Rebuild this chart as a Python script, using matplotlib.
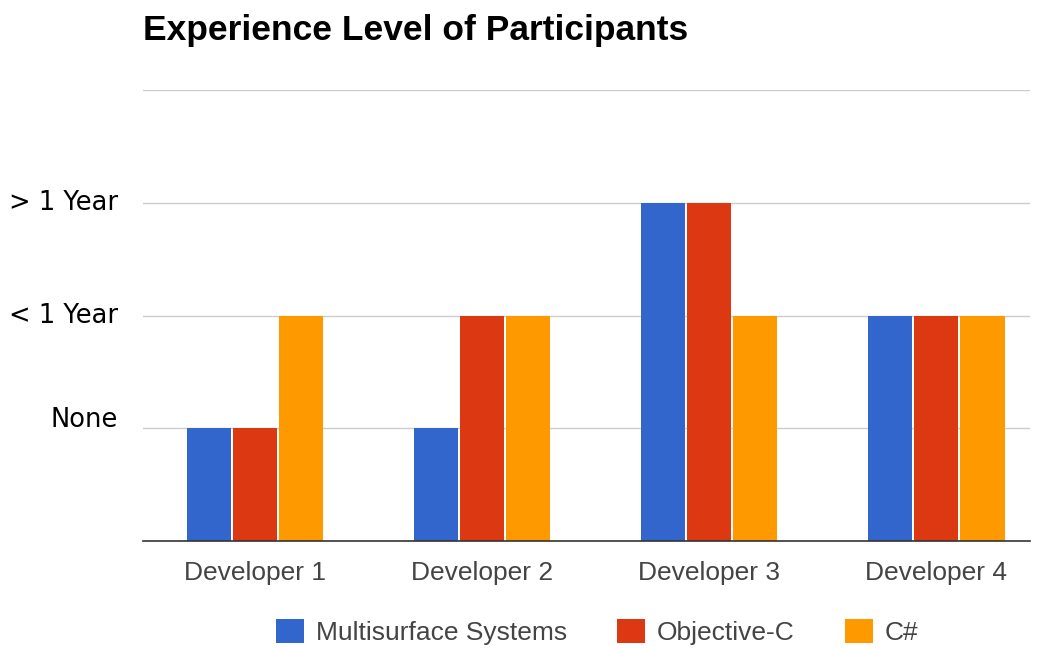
import matplotlib.pyplot as plt
import matplotlib.transforms as mtransforms
import numpy as np

developers = ['Developer 1', 'Developer 2', 'Developer 3', 'Developer 4']
series_names = ['Multisurface Systems', 'Objective-C', 'C#']
multisurface = [1, 1, 3, 2]
objective_c = [1, 2, 3, 2]
csharp = [2, 2, 2, 2]
level_ticks = [1, 2, 3]
level_labels = ['None', '< 1 Year', '> 1 Year']

colors = ['#3366cc', '#dc3912', '#ff9900']

fig = plt.figure(figsize=(10.44, 6.48), dpi=100)
ax = fig.add_axes([0.137, 0.165, 0.850, 0.696])

x = np.arange(len(developers))
w = 0.194
step = 0.203
for i, vals in enumerate([multisurface, objective_c, csharp]):
    ax.bar(x + (i - 1) * step, vals, width=w, color=colors[i],
           label=series_names[i], zorder=3)

ax.set_xlim(-0.493, 3.414)
ax.set_ylim(0, 4)
ax.set_yticks([0] + level_ticks + [4])
ax.set_yticklabels([''] + level_labels + [''], fontsize=18.5,
                   family='DejaVu Sans', color='black', va='center')
ax.tick_params(axis='y', length=0, pad=18)
# google charts draws "None" a bit above its gridline
none_lab = ax.get_yticklabels()[1]
none_lab.set_transform(none_lab.get_transform() +
                       mtransforms.ScaledTranslation(0, 8 / 100, fig.dpi_scale_trans))
ax.grid(axis='y', color='#cccccc', linewidth=1, zorder=0)
ax.set_xticks(x)
ax.set_xticklabels(developers, fontsize=19, family='Liberation Sans', color='#444444')
ax.tick_params(axis='x', length=0, pad=14)

for s in ['top', 'right', 'left']:
    ax.spines[s].set_visible(False)
ax.spines['bottom'].set_color('#333333')
ax.spines['bottom'].set_linewidth(1.2)
ax.spines['bottom'].set_zorder(4)

fig.text(0.137, 0.953, 'Experience Level of Participants', fontsize=25.5,
         fontweight='bold', family='Liberation Sans', va='center', ha='left')

fig.legend(loc='center', bbox_to_anchor=(0.572, 0.025), ncol=3, frameon=False,
           prop={'family': 'Liberation Sans', 'size': 19}, handlelength=1.06,
           handleheight=1.05, handletextpad=0.45, columnspacing=1.9,
           labelcolor='#444444')

fig.savefig('out.png', dpi=100)
